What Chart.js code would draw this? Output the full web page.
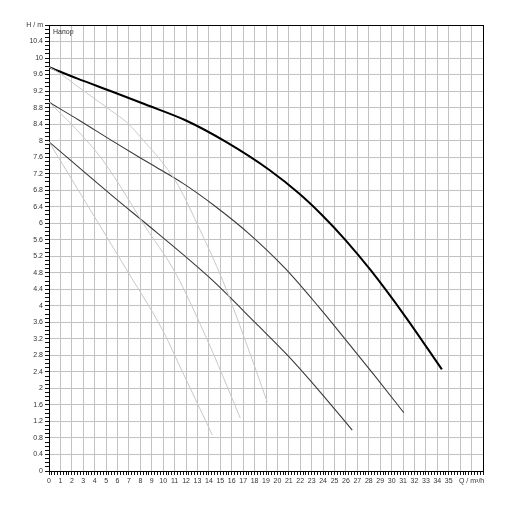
<!DOCTYPE html>
<html>
<head>
<meta charset="utf-8">
<script src="https://cdn.jsdelivr.net/npm/chart.js@4/dist/chart.umd.min.js"></script>
<style>
  html, body { margin: 0; padding: 0; background: #fff; }
  canvas { display: block; }
</style>
</head>
<body>
<canvas id="c" width="508" height="508"></canvas>
<script>
// кривые насоса
const thickQ = [0, 2.5, 5.5, 8.4, 11.9, 15.5, 19.3, 21.9, 23.9, 26, 28.2, 31.2, 34.4];
const thickH = [9.78, 9.5, 9.19, 8.88, 8.5, 7.97, 7.29, 6.72, 6.2, 5.58, 4.85, 3.74, 2.46];

const midQ = [0, 2.6, 5.5, 8.8, 11.7, 14.6, 17.5, 20.7, 23.6, 26, 28.6, 31.07];
const midH = [8.93, 8.5, 8.0, 7.45, 6.97, 6.4, 5.75, 4.9, 3.98, 3.17, 2.28, 1.41];

const lowQ = [0, 5.47, 8.8, 11.7, 14.3, 18.1, 21.0, 23.6, 26.55];
const lowH = [7.97, 6.68, 5.92, 5.25, 4.62, 3.58, 2.77, 1.96, 0.99];

const grayAQ = [0, 1, 2.56, 5.47, 6.9, 8.38, 10.1, 11.3, 13.2, 15.2, 17.2, 19.1];
const grayAH = [9.78, 9.62, 9.3, 8.72, 8.42, 7.97, 7.41, 6.92, 5.85, 4.62, 3.15, 1.68];

const grayBQ = [0, 2.3, 4.7, 8.8, 10.56, 11.7, 14.2, 16.75];
const grayBH = [8.93, 8.3, 7.53, 5.76, 5.04, 4.46, 2.96, 1.28];

const grayCQ = [0, 0.96, 4, 7, 9.95, 11.4, 14.3];
const grayCH = [7.97, 7.53, 6.15, 4.78, 3.41, 2.57, 0.87];

// оси
const xMax = 38, xLastLabel = 35, xUnitAt = 37, xUnit = 'Q / m³/h';
const yMax = 10.8, yLabelStep = 0.4, yUnit = 'H / m';
const plotTitle = 'Напор';

const pts = (q, h) => q.map((v, i) => ({ x: v, y: h[i] }));
const near = (a, b) => Math.abs(a - b) < 1e-6;
const isMult = (v, s) => near(v / s, Math.round(v / s));

function line(q, h, color, width) {
  return {
    data: pts(q, h),
    showLine: true,
    borderColor: color,
    borderWidth: width,
    pointRadius: 0,
    cubicInterpolationMode: 'monotone',
    fill: false
  };
}

const titlePlugin = {
  id: 'plotTitle',
  afterDraw(chart) {
    const { ctx, chartArea } = chart;
    ctx.save();
    ctx.font = '7px "Liberation Sans", Arial, sans-serif';
    ctx.fillStyle = '#333';
    ctx.textBaseline = 'middle';
    ctx.fillText(plotTitle, chartArea.left + 4, chartArea.top + 7);
    ctx.restore();
  }
};

const tickFont = { size: 7, family: '"Liberation Sans", Arial, sans-serif' };
const gridGray = '#c2c2c2';

new Chart(document.getElementById('c'), {
  type: 'scatter',
  data: {
    datasets: [
      line(grayAQ, grayAH, '#c8c8c8', 1),
      line(grayBQ, grayBH, '#c8c8c8', 1),
      line(grayCQ, grayCH, '#c8c8c8', 1),
      line(lowQ, lowH, '#3a3a3a', 1.1),
      line(midQ, midH, '#3a3a3a', 1.1),
      line(thickQ, thickH, '#000', 2)
    ]
  },
  options: {
    responsive: false,
    animation: false,
    devicePixelRatio: 1,
    layout: { padding: { left: 5, top: 25, right: 25, bottom: 20 } },
    plugins: { legend: { display: false }, tooltip: { enabled: false } },
    scales: {
      x: {
        type: 'linear',
        min: 0, max: xMax,
        afterFit: s => { s.height = 17; },
        border: { color: '#000', width: 1 },
        grid: {
          color: c => near(c.tick.value, xMax) ? '#000' : (isMult(c.tick.value, 1) ? gridGray : 'rgba(0,0,0,0)'),
          tickColor: '#111',
          tickLength: 4
        },
        ticks: {
          stepSize: 0.25,
          autoSkip: false,
          maxRotation: 0, minRotation: 0,
          padding: 2,
          color: '#333',
          font: tickFont,
          callback: v => {
            if (near(v, xUnitAt)) return xUnit;
            if (isMult(v, 1) && v <= xLastLabel) return String(Math.round(v));
            return '';
          }
        }
      },
      y: {
        type: 'linear',
        min: 0, max: yMax,
        afterFit: s => { s.width = 44; },
        border: { color: '#000', width: 1 },
        grid: {
          color: c => near(c.tick.value, yMax) ? '#000' : (isMult(c.tick.value, yLabelStep) ? gridGray : 'rgba(0,0,0,0)'),
          tickColor: '#111',
          tickLength: 4
        },
        ticks: {
          stepSize: 0.1,
          autoSkip: false,
          padding: 2,
          color: '#333',
          font: tickFont,
          callback: v => {
            if (near(v, yMax)) return yUnit;
            if (isMult(v, yLabelStep)) return String(Number(v.toFixed(1)));
            return '';
          }
        }
      }
    }
  },
  plugins: [titlePlugin]
});
</script>
</body>
</html>
